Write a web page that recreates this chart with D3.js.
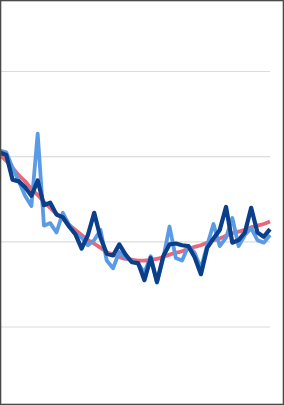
<!DOCTYPE html>
<html>
<head>
<meta charset="utf-8">
<script src="https://cdn.jsdelivr.net/npm/d3@7"></script>
<style>
  html, body { margin: 0; padding: 0; background: #fff; }
  svg { display: block; }
</style>
</head>
<body>
<div id="chart"></div>
<script>
var years = d3.range(1, 45);

// series values (axis units, gridlines at 0,10,20,30)
var lightValues = [20.7, 20.5, 18.7, 17.1, 15.4, 14.2, 22.7, 11.9, 12.2, 11.1, 13.4, 12.0,
  10.9, 10.5, 9.6, 10.2, 11.4, 7.8, 6.9, 8.8, 8.1, 7.8, 7.4, 6.4, 8.3, 5.2, 8.1, 11.8,
  8.1, 7.8, 9.5, 8.7, 6.9, 9.6, 12.1, 9.5, 10.5, 12.8, 9.5, 10.8, 11.6, 10.2, 9.9, 10.8];

var darkValues = [20.5, 20.2, 17.3, 17.1, 16.4, 15.4, 17.2, 14.3, 14.6, 13.2, 12.9, 11.8,
  10.9, 9.2, 10.8, 13.4, 10.5, 8.6, 8.4, 9.7, 8.5, 7.6, 7.5, 5.5, 8.1, 5.3, 8.3, 9.7,
  9.8, 9.6, 9.5, 8.2, 6.2, 9.3, 10.4, 11.4, 14.1, 9.9, 10.2, 11.1, 14.0, 11.1, 10.6, 11.5];

var trendValues = [20.2, 19.5, 18.7, 17.8, 17.1, 16.2, 15.5, 14.7, 14.0, 13.3, 12.7, 12.0,
  11.4, 10.8, 10.2, 9.8, 9.3, 8.8, 8.5, 8.2, 8.0, 7.9, 7.8, 7.8, 7.9, 8.0, 8.2, 8.5,
  8.7, 8.9, 9.2, 9.4, 9.6, 9.9, 10.2, 10.4, 10.7, 11.0, 11.2, 11.4, 11.7, 11.9, 12.1, 12.4];

var yTicks = [0, 10, 20, 30];

var width = 284,
    height = 405,
    plotRight = 270;

var x = d3.scaleLinear()
  .domain(d3.extent(years))
  .range([0, plotRight]);

var y = d3.scaleLinear()
  .domain([0, 30])
  .range([327, 71.5]);

var svg = d3.select("#chart").append("svg")
  .attr("width", width)
  .attr("height", height);

svg.selectAll("line.grid")
  .data(yTicks)
  .enter()
    .append("line")
    .attr("class", "grid")
    .attr("x1", 0)
    .attr("x2", plotRight)
    .attr("y1", function (d) { return y(d); })
    .attr("y2", function (d) { return y(d); })
    .style("stroke", "#dcdcdc")
    .style("stroke-width", 1.2);

function drawLine(values, color, w, curve) {
  var line = d3.line()
    .x(function (d, i) { return x(years[i]); })
    .y(function (d) { return y(d); })
    .curve(curve || d3.curveLinear);
  svg.append("path")
    .datum(values)
    .attr("d", line)
    .style("fill", "none")
    .style("stroke", color)
    .style("stroke-width", w)
    .style("stroke-linejoin", "round")
    .style("stroke-linecap", "butt");
}

drawLine(trendValues, "#e8677a", 3.8, d3.curveMonotoneX);
drawLine(lightValues, "#5b9be6", 3.8);
drawLine(darkValues, "#0c3f8a", 4.2);

svg.append("rect")
  .attr("x", 0.6)
  .attr("y", 0.6)
  .attr("width", width - 1.2)
  .attr("height", height - 1.2)
  .style("fill", "none")
  .style("stroke", "#4a4a4a")
  .style("stroke-width", 1.4);
</script>
</body>
</html>
